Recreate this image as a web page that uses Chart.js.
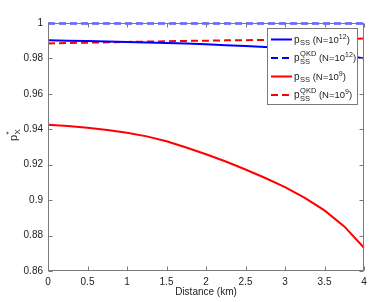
<!DOCTYPE html>
<html>
<head>
<meta charset="utf-8">
<script src="https://cdn.jsdelivr.net/npm/chart.js@4.4.1/dist/chart.umd.min.js"></script>
<style>
  html, body { margin: 0; padding: 0; background: #fff; }
  #wrap { position: relative; width: 374px; height: 302px; }
</style>
</head>
<body>
<div id="wrap"><canvas id="grafico" width="374" height="302"></canvas></div>
<script>
// Datos
const distancia = [0, 0.25, 0.5, 0.75, 1, 1.25, 1.5, 1.75, 2, 2.25, 2.5, 2.75, 3, 3.25, 3.5, 3.75, 4];
const pssN12 = [0.9902, 0.9900, 0.9898, 0.9896, 0.9893, 0.9890, 0.9887, 0.9884, 0.9880, 0.9875, 0.9870, 0.9864, 0.9857, 0.9847, 0.9835, 0.9820, 0.9800];
const qkdN12 = [0.9997, 0.9997, 0.9997, 0.9997, 0.9997, 0.9997, 0.9997, 0.9997, 0.9997, 0.9997, 0.9997, 0.9997, 0.9997, 0.9997, 0.9997, 0.9997, 0.9997];
const pssN9 = [0.9426, 0.9419, 0.9409, 0.9396, 0.9380, 0.9360, 0.9332, 0.9297, 0.9259, 0.9218, 0.9173, 0.9125, 0.9073, 0.9013, 0.8942, 0.8852, 0.8731];
const qkdN9 = [0.9884, 0.9887, 0.9889, 0.9891, 0.9893, 0.9895, 0.9897, 0.9899, 0.9900, 0.9902, 0.9903, 0.9904, 0.9906, 0.9907, 0.9909, 0.9910, 0.9912];
const xTicks = [0, 0.5, 1, 1.5, 2, 2.5, 3, 3.5, 4];
const yTicks = [0.86, 0.88, 0.9, 0.92, 0.94, 0.96, 0.98, 1];
// leyenda: superindice, subindice y exponente de N
const legendSup = ['', 'QKD', '', 'QKD'];
const legendSub = ['SS', 'SS', 'SS', 'SS'];
const legendExp = ['12', '12', '9', '9'];

const FONT = "'Liberation Sans', Arial, sans-serif";
const GRIS = '#7a7a7a';

const puntos = arr => arr.map((v, i) => ({ x: distancia[i], y: v }));

// Caja, marcas hacia dentro, leyenda y titulo del eje Y
const marcoPlugin = {
    id: 'marco',
    afterDatasetsDraw(chart) {
        const { ctx, chartArea: a, scales } = chart;
        const L = Math.round(a.left) + 0.5, R = Math.round(a.right) - 0.5;
        const T = Math.round(a.top) + 0.5, B = Math.round(a.bottom) - 0.5;
        ctx.save();
        ctx.strokeStyle = GRIS;
        ctx.lineWidth = 1;
        ctx.setLineDash([]);
        ctx.strokeRect(L, T, R - L, B - T);
        ctx.beginPath();
        xTicks.forEach(v => {
            const px = Math.round(scales.x.getPixelForValue(v)) + 0.5;
            ctx.moveTo(px, B); ctx.lineTo(px, B - 4);
            ctx.moveTo(px, T); ctx.lineTo(px, T + 4);
        });
        yTicks.forEach(v => {
            const py = Math.round(scales.y.getPixelForValue(v)) + 0.5;
            ctx.moveTo(L, py); ctx.lineTo(L + 4, py);
            ctx.moveTo(R, py); ctx.lineTo(R - 4, py);
        });
        ctx.stroke();

        // leyenda
        const bx = 267.5, by = 28.5, bw = 90, bh = 76;
        ctx.fillStyle = '#fff';
        ctx.fillRect(bx, by, bw, bh);
        ctx.strokeStyle = GRIS;
        ctx.strokeRect(bx, by, bw, bh);
        const filas = [39.5, 58, 76.5, 95];
        chart.data.datasets.forEach((ds, i) => {
            const cy = filas[i];
            ctx.strokeStyle = ds.borderColor;
            ctx.lineWidth = 2;
            ctx.setLineDash(ds.borderDash || []);
            ctx.beginPath();
            ctx.moveTo(271, cy); ctx.lineTo(292, cy);
            ctx.stroke();
            ctx.setLineDash([]);
            ctx.fillStyle = '#222';
            ctx.textBaseline = 'alphabetic';
            ctx.textAlign = 'left';
            let x = 294;
            ctx.font = '10px ' + FONT;
            ctx.fillText('p', x, cy + 3);
            x += ctx.measureText('p').width + 0.5;
            ctx.font = '7.5px ' + FONT;
            let w = ctx.measureText(legendSub[i]).width;
            if (legendSup[i]) {
                ctx.fillText(legendSup[i], x, cy - 2);
                w = Math.max(w, ctx.measureText(legendSup[i]).width);
                ctx.fillText(legendSub[i], x, cy + 6);
            } else {
                ctx.fillText(legendSub[i], x, cy + 5);
            }
            x += w;
            ctx.font = '9.5px ' + FONT;
            ctx.fillText(' (N=10', x, cy + 3);
            x += ctx.measureText(' (N=10').width;
            ctx.font = '7px ' + FONT;
            ctx.fillText(legendExp[i], x, cy - 1);
            x += ctx.measureText(legendExp[i]).width;
            ctx.font = '9.5px ' + FONT;
            ctx.fillText(')', x, cy + 3);
        });

        // titulo eje Y: p*_X
        ctx.translate(17, 141);
        ctx.rotate(-Math.PI / 2);
        ctx.fillStyle = '#222';
        ctx.font = '11px ' + FONT;
        ctx.fillText('p', 0, 0);
        const pw = ctx.measureText('p').width;
        ctx.font = '8px ' + FONT;
        ctx.fillText('*', pw + 0.5, -6);
        ctx.fillText('X', pw + 0.5, 3);
        ctx.restore();
    }
};

const ctx = document.getElementById('grafico').getContext('2d');
new Chart(ctx, {
    type: 'line',
    data: {
        datasets: [
            { data: puntos(pssN12), borderColor: '#0000ff', borderWidth: 2 },
            { data: puntos(qkdN12), borderColor: '#0000ff', borderWidth: 2, borderDash: [7, 4] },
            { data: puntos(pssN9), borderColor: '#ff0000', borderWidth: 2 },
            { data: puntos(qkdN9), borderColor: '#ff0000', borderWidth: 2, borderDash: [7, 4] }
        ]
    },
    options: {
        responsive: false,
        animation: false,
        devicePixelRatio: 1,
        clip: false,
        elements: { point: { radius: 0 }, line: { tension: 0 } },
        layout: { padding: { top: 23, right: 10, left: 0, bottom: 0 } },
        plugins: { legend: { display: false }, tooltip: { enabled: false } },
        scales: {
            x: {
                type: 'linear', min: 0, max: 4,
                grid: { display: false, drawTicks: false },
                border: { display: false },
                afterBuildTicks: s => { s.ticks = xTicks.map(v => ({ value: v })); },
                afterFit: s => { s.height = 31; },
                ticks: {
                    padding: 5, color: '#222', maxRotation: 0,
                    font: { family: FONT, size: 10 },
                    callback: v => String(v)
                },
                title: {
                    display: true, text: 'Distance (km)', color: '#222',
                    font: { family: FONT, size: 10 }, padding: { top: 0, bottom: 4 }
                }
            },
            y: {
                min: 0.86, max: 1,
                grid: { display: false, drawTicks: false },
                border: { display: false },
                afterBuildTicks: s => { s.ticks = yTicks.map(v => ({ value: v })); },
                afterFit: s => { s.width = 48; },
                ticks: {
                    padding: 5, color: '#222',
                    font: { family: FONT, size: 10 },
                    callback: v => String(Number(v.toFixed(2)))
                }
            }
        }
    },
    plugins: [marcoPlugin]
});
</script>
</body>
</html>
